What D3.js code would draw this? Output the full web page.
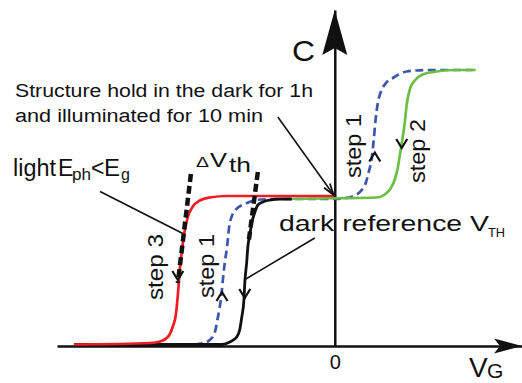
<!DOCTYPE html>
<html>
<head>
<meta charset="utf-8">
<script src="https://cdn.jsdelivr.net/npm/d3@7/dist/d3.min.js"></script>
<style>
  html, body { margin: 0; padding: 0; background: #fff; }
  svg { display: block; }
  text { font-family: "Liberation Sans", Arial, sans-serif; fill: #111; }
</style>
</head>
<body>
<svg id="chart" width="522" height="383"></svg>
<script>
// C-V sweeps: [V_G, C], V_G in arbitrary units (0 on the C axis),
// C normalised so that the middle plateau is 1
const darkReference = [
    [-9.39, 0.01], [-4.06, 0.01], [-3.78, 0.027], [-3.53, 0.06], [-3.42, 0.11], [-3.35, 0.19],
    [-3.27, 0.31], [-3.24, 0.42], [-3.17, 0.56], [-3.13, 0.66], [-3.06, 0.74], [-2.99, 0.82],
    [-2.88, 0.89], [-2.77, 0.94], [-2.59, 0.96], [-2.34, 0.973], [-1.98, 0.98], [-1.55, 0.98]
];
const lightStep3 = [
    [-9.39, 0.01], [-6.65, 0.02], [-6.29, 0.03], [-6.01, 0.06], [-5.83, 0.13], [-5.72, 0.21],
    [-5.65, 0.34], [-5.58, 0.51], [-5.50, 0.64], [-5.40, 0.77], [-5.29, 0.86], [-5.11, 0.93],
    [-4.86, 0.97], [-4.50, 0.99], [-3.88, 1.0], [0, 1.0]
];
const step1Sweep = [
    [-5.04, 0.01], [-4.71, 0.02], [-4.50, 0.04], [-4.32, 0.09], [-4.21, 0.19], [-4.10, 0.31],
    [-3.99, 0.51], [-3.88, 0.66], [-3.78, 0.82], [-3.56, 0.91], [-3.20, 0.95], [-2.77, 0.975],
    [-2.09, 0.98], [0, 0.98], [0.36, 0.985], [0.61, 0.995], [0.79, 1.01], [0.97, 1.04],
    [1.12, 1.09], [1.22, 1.16], [1.33, 1.25], [1.40, 1.37], [1.47, 1.51], [1.55, 1.62],
    [1.65, 1.69], [1.83, 1.75], [2.12, 1.79], [2.59, 1.83], [3.31, 1.84], [4.96, 1.84]
];
const step2Sweep = [
    [-1.62, 0.98], [0, 0.985], [1.51, 0.99], [1.80, 1.01], [2.01, 1.05], [2.16, 1.11],
    [2.27, 1.19], [2.34, 1.27], [2.41, 1.35], [2.52, 1.49], [2.59, 1.61], [2.70, 1.71],
    [2.88, 1.77], [3.17, 1.81], [3.67, 1.83], [4.32, 1.84], [5.07, 1.84]
];

// sweep direction arrows on the curves
const arrowVg = [-5.65, -4.06, -3.24, 1.44, 2.41];
const arrowC = [0.44, 0.36, 0.32, 1.29, 1.32];
const arrowDir = ["down", "up", "down", "up", "down"];

// threshold shift markers and leader lines
const deltaVthLeft = [[-5.18, 1.147], [-5.65, 0.42]];
const deltaVthRight = [[-2.77, 1.16], [-3.09, 0.71]];
const lightLeader = [[-8.45, 1.03], [-5.47, 0.75]];
const darkLeader = [[-0.72, 0.72], [-3.20, 0.447]];
const holdArrow = [[-2.05, 1.527], [-0.04, 1.007]];

const xTicks = [0];
const xRange = [-10, 6.74];
const yRange = [0, 2.24];

const svg = d3.select("#chart");
const x = d3.scaleLinear().domain(xRange).range([57, 522]);
const y = d3.scaleLinear().domain(yRange).range([346, 10]);

const line = d3.line()
    .x(d => x(d[0]))
    .y(d => y(d[1]))
    .curve(d3.curveMonotoneX);
const straight = d3.line()
    .x(d => x(d[0]))
    .y(d => y(d[1]));

// axes
const xAxisG = svg.append("g")
    .attr("transform", `translate(0,${y(0)})`)
    .call(d3.axisBottom(x).tickValues(xTicks).tickSize(0).tickSizeOuter(0).tickPadding(9));
xAxisG.select(".domain").attr("stroke", "#111").attr("stroke-width", 2.5);
xAxisG.selectAll(".tick text")
    .style("font-family", "Liberation Sans, Arial, sans-serif")
    .style("font-size", "20px")
    .attr("fill", "#111");

const yAxisG = svg.append("g")
    .attr("transform", `translate(${x(0)},0)`)
    .call(d3.axisLeft(y).tickValues([]).tickSizeOuter(0));
yAxisG.select(".domain").attr("stroke", "#111").attr("stroke-width", 2.5);

// arrow heads on the axes
const xe = x(xRange[1]), ye = y(0), x0 = x(0), yt = y(yRange[1]);
svg.append("path")
    .attr("d", `M${xe},${ye}L${xe - 28},${ye - 7.5}L${xe - 22},${ye}L${xe - 28},${ye + 7.5}Z`)
    .attr("fill", "#111");
svg.append("path")
    .attr("d", `M${x0},${yt}L${x0 - 12.5},${yt + 45}L${x0},${yt + 38}L${x0 + 12.5},${yt + 45}Z`)
    .attr("fill", "#111");

// curves
svg.append("path").datum(step1Sweep)
    .attr("d", line).attr("fill", "none")
    .attr("stroke", "#3c56ac").attr("stroke-width", 2.7)
    .attr("stroke-dasharray", "8,4.5");
svg.append("path").datum(step2Sweep)
    .attr("d", line).attr("fill", "none")
    .attr("stroke", "#6cbf45").attr("stroke-width", 2.7);
svg.append("path").datum(darkReference)
    .attr("d", line).attr("fill", "none")
    .attr("stroke", "#111").attr("stroke-width", 2.8);
svg.append("path").datum(lightStep3)
    .attr("d", line).attr("fill", "none")
    .attr("stroke", "#ee1d23").attr("stroke-width", 2.7);

// delta Vth markers
[deltaVthLeft, deltaVthRight].forEach(seg => {
    svg.append("path").datum(seg)
        .attr("d", straight).attr("fill", "none")
        .attr("stroke", "#111").attr("stroke-width", 4.5)
        .attr("stroke-dasharray", "8,4");
});

// sweep arrows
arrowVg.forEach((v, i) => {
    const tx = x(v), ty = y(arrowC[i]), s = arrowDir[i] === "down" ? -1 : 1;
    svg.append("path")
        .attr("d", `M${tx - 5.5},${ty + s * 9}L${tx},${ty}L${tx + 5.5},${ty + s * 9}`)
        .attr("fill", "none").attr("stroke", "#111").attr("stroke-width", 2.2);
});

// leader lines
[lightLeader, darkLeader, holdArrow].forEach(seg => {
    svg.append("path").datum(seg)
        .attr("d", straight).attr("fill", "none")
        .attr("stroke", "#111").attr("stroke-width", 1.6);
});
const hx = x(holdArrow[1][0]), hy = y(holdArrow[1][1]),
    ang = Math.atan2(hy - y(holdArrow[0][1]), hx - x(holdArrow[0][0]));
svg.append("path")
    .attr("d", `M${hx - 12 * Math.cos(ang - 0.3)},${hy - 12 * Math.sin(ang - 0.3)}L${hx},${hy}L${hx - 12 * Math.cos(ang + 0.3)},${hy - 12 * Math.sin(ang + 0.3)}`)
    .attr("fill", "none").attr("stroke", "#111").attr("stroke-width", 1.8);

// text
const labels = [
    { t: "Structure hold in the dark for 1h", x: 15, y: 97, size: 18, len: 298 },
    { t: "and illuminated for 10 min", x: 15, y: 122, size: 18, len: 248 },
    { t: "light", x: 13, y: 176, size: 23, len: 43 },
    { t: "E", x: 58, y: 176, size: 23 },
    { t: "ph", x: 72, y: 180, size: 16, len: 19 },
    { t: "<", x: 91, y: 176, size: 23 },
    { t: "E", x: 104, y: 176, size: 23, len: 16 },
    { t: "g", x: 121, y: 180, size: 16 },
    { t: "\u0394", x: 196, y: 167, size: 15, len: 13 },
    { t: "V", x: 210, y: 167, size: 21, len: 17 },
    { t: "th", x: 229, y: 172, size: 21, len: 22 },
    { t: "dark reference V", x: 279, y: 231, size: 21.5, len: 210 },
    { t: "TH", x: 488, y: 237, size: 13, len: 17 },
    { t: "C", x: 292, y: 61, size: 30, len: 23 },
    { t: "V", x: 469, y: 377, size: 28 },
    { t: "G", x: 487, y: 378, size: 21 },
    { t: "step 3", x: 163, y: 300, size: 22, len: 66, rot: true },
    { t: "step 1", x: 214, y: 298, size: 22, len: 64, rot: true },
    { t: "step 1", x: 361, y: 178, size: 22, len: 64, rot: true },
    { t: "step 2", x: 425, y: 183, size: 22, len: 64, rot: true }
];
labels.forEach(l => {
    const el = svg.append("text")
        .attr("font-size", l.size)
        .text(l.t);
    if (l.rot) {
        el.attr("transform", `translate(${l.x},${l.y}) rotate(-90)`);
    } else {
        el.attr("x", l.x).attr("y", l.y);
    }
    if (l.len) el.attr("textLength", l.len).attr("lengthAdjust", "spacingAndGlyphs");
});
</script>
</body>
</html>
